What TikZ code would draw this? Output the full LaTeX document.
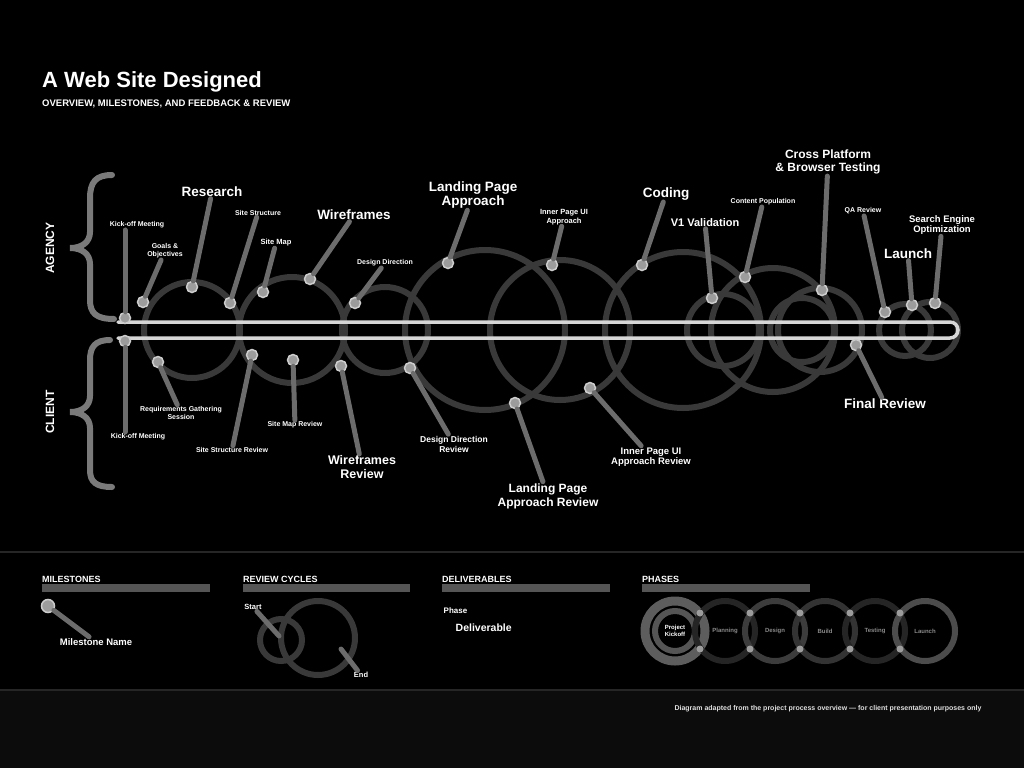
\documentclass[tikz,border=0pt]{standalone}
\usepackage{fontspec}
\setmainfont{Liberation Sans}
\definecolor{ringc}{HTML}{393939}
\definecolor{trackc}{HTML}{D6D6D6}
\definecolor{leadc}{HTML}{6C6C6C}
\definecolor{dotc}{HTML}{9C9C9C}
\definecolor{dotb}{HTML}{CDCDCD}
\definecolor{bracec}{HTML}{7A7A7A}
\definecolor{barc}{HTML}{555555}
\definecolor{footc}{HTML}{0C0C0C}
\definecolor{sepc}{HTML}{262626}
\definecolor{dimtext}{HTML}{8A8A8A}
\begin{document}
\begin{tikzpicture}[x=1pt,y=-1pt,
  ring/.style={draw=ringc, line width=6pt},
  track/.style={draw=trackc, line width=3.5pt, line cap=round},
  leader/.style={draw=leadc, line width=5pt, line cap=round},
  dotn/.style={circle, fill=dotc, draw=dotb, line width=1.5pt, minimum size=11pt, inner sep=0pt},
  lbl/.style={text=white, align=center, inner sep=1.5pt},
  lbig/.style={lbl, font=\fontsize{13.5}{14.5}\selectfont\bfseries},
  lmid/.style={lbl, font=\fontsize{9.5}{10.5}\selectfont\bfseries},
  lsml/.style={lbl, font=\fontsize{7}{8}\selectfont\bfseries},
  brace/.style={draw=bracec, line width=6pt, line cap=round},
  side/.style={text=white, font=\fontsize{12}{12}\selectfont\bfseries, rotate=90},
  legtitle/.style={text=white, anchor=south west, inner sep=0pt, font=\fontsize{9}{9}\selectfont\bfseries},
  legbar/.style={draw=barc, line width=8pt},
  phase/.style={draw=#1, line width=6pt},
  ptext/.style={text=dimtext, font=\fontsize{6}{7}\selectfont\bfseries, align=center},
  xdot/.style={circle, fill=dotc, inner sep=0pt, minimum size=7pt}
]
\useasboundingbox (0,0) rectangle (1024,768);
\fill[black] (0,0) rectangle (1024,768);
\fill[footc] (0,690) rectangle (1024,768);
\draw[sepc, line width=2pt] (0,552) -- (1024,552);
\draw[sepc, line width=2pt] (0,690) -- (1024,690);

% title
\node[anchor=west, text=white, inner sep=0pt, font=\fontsize{22}{22}\selectfont\bfseries] (title) at (42,82) {A Web Site Designed};
\node[anchor=west, text=white, inner sep=0pt, font=\fontsize{9.5}{9.5}\selectfont\bfseries] (subtitle) at (42,104) {OVERVIEW, MILESTONES, AND FEEDBACK \& REVIEW};

% braces
\draw[brace] (112,175) .. controls (96,175) and (90,182) .. (90,198) -- (90,232) .. controls (90,242) and (82,248) .. (70,248) .. controls (82,248) and (90,254) .. (90,264) -- (90,300) .. controls (90,313) and (96,319) .. (114,319);
\draw[brace] (110,340) .. controls (95,340) and (90,347) .. (90,360) -- (90,396) .. controls (90,406) and (82,412) .. (70,412) .. controls (82,412) and (90,418) .. (90,428) -- (90,470) .. controls (90,482) and (96,487) .. (112,487);
\node[side] (agency) at (50,248) {AGENCY};
\node[side] (client) at (50,412) {CLIENT};

% loops
\foreach \cx/\r in {192/48, 292/53, 385/43, 485/80, 560/70, 683/78, 723/36, 773/62, 802/32, 820/42, 905/26, 930/28}
  \draw[ring] (\cx,330) circle (\r);

% track
\draw[track] (118,322) -- (950,322) arc[start angle=-90, end angle=90, radius=8] -- (118,338);

% top labels
\node[lsml] (lt1) at (137,225) {Kick-off Meeting};
\node[lsml] (lt2) at (165,251) {Goals \&\\Objectives};
\node[lbig] (lt3) at (212,192) {Research};
\node[lsml] (lt4) at (258,213) {Site Structure};
\node[lsml, font=\fontsize{7.5}{8}\selectfont\bfseries] (lt5) at (276,243) {Site Map};
\node[lbig] (lt6) at (354,215) {Wireframes};
\node[lsml] (lt7) at (385,263) {Design Direction};
\node[lbig] (lt8) at (473,195) {Landing Page\\Approach};
\node[lsml, font=\fontsize{7.5}{8.5}\selectfont\bfseries] (lt9) at (564,217) {Inner Page UI\\Approach};
\node[lbig] (lt10) at (666,194) {Coding};
\node[lmid, font=\fontsize{11}{12}\selectfont\bfseries] (lt11) at (705,223) {V1 Validation};
\node[lsml] (lt12) at (763,202) {Content Population};
\node[lbig, font=\fontsize{12}{13.5}\selectfont\bfseries] (lt13) at (828,162) {Cross Platform\\\& Browser Testing};
\node[lsml] (lt14) at (863,211) {QA Review};
\node[lmid] (lt15) at (942,225) {Search Engine\\Optimization};
\node[lbig] (lt16) at (908,254) {Launch};

% bottom labels
\node[lsml] (lb1) at (138,437) {Kick-off Meeting};
\node[lsml] (lb2) at (181,413) {Requirements Gathering\\Session};
\node[lsml] (lb3) at (232,450) {Site Structure Review};
\node[lsml] (lb4) at (295,425) {Site Map Review};
\node[lbig, font=\fontsize{12.5}{13.5}\selectfont\bfseries] (lb5) at (362,467) {Wireframes\\Review};
\node[lmid, font=\fontsize{8.5}{10}\selectfont\bfseries] (lb6) at (454,444) {Design Direction\\Review};
\node[lbig, font=\fontsize{12}{14}\selectfont\bfseries] (lb7) at (548,496) {Landing Page\\Approach Review};
\node[lmid] (lb8) at (651,457) {Inner Page UI\\Approach Review};
\node[lbig] (lb9) at (885,404) {Final Review};

% dots
\foreach \n/\x/\y in {t1/125/318, t2/143/302, t3/192/287, t4/230/303, t5/263/292, t6/310/279, t7/355/303, t8/448/263, t9/552/265, t10/642/265, t11/712/298, t12/745/277, t13/822/290, t14/885/312, t15/935/303, t16/912/305,
  b1/125/341, b2/158/362, b3/252/355, b4/293/360, b5/341/366, b6/410/368, b7/515/403, b8/590/388, b9/856/345}
  \node[dotn] (\n) at (\x,\y) {};

% leaders
\draw[leader] (t1) -- (t1 |- lt1.south);
\draw[leader] (b1) -- (b1 |- lb1.north);
\foreach \n in {2,...,16} \draw[leader] (t\n) -- (lt\n);
\foreach \n in {2,...,9} \draw[leader] (b\n) -- (lb\n);

% ---------- legend ----------
\node[legtitle] (g1) at (42,583) {MILESTONES};
\draw[legbar] (42,588) -- (210,588);
\node[dotn, minimum size=13pt] (g1d) at (48,606) {};
\node[lbl, font=\fontsize{9.5}{10}\selectfont\bfseries] (g1l) at (96,642) {Milestone Name};
\draw[leader] (g1d) -- (g1l);

\node[legtitle] (g2) at (243,583) {REVIEW CYCLES};
\draw[legbar] (243,588) -- (410,588);
\draw[ring] (318,638) circle (37);
\draw[ring] (281,640) circle (21);
\node[lbl, font=\fontsize{7.5}{8}\selectfont\bfseries] (gs) at (253,607) {Start};
\node[lbl, font=\fontsize{7.5}{8}\selectfont\bfseries] (ge) at (361,675) {End};
\coordinate (gsp) at (279,636);
\coordinate (gep) at (341,649);
\draw[leader] (gs) -- (gsp);
\draw[leader] (ge) -- (gep);

\node[legtitle] (g3) at (442,583) {DELIVERABLES};
\draw[legbar] (442,588) -- (610,588);
\node[lbl, anchor=west, font=\fontsize{8}{8}\selectfont\bfseries] (g3a) at (442,611) {Phase};
\node[lbl, anchor=west, font=\fontsize{10.5}{11}\selectfont\bfseries] (g3b) at (454,628) {Deliverable};

\node[legtitle] (g4) at (642,583) {PHASES};
\draw[legbar] (642,588) -- (810,588);
\draw[phase=barc!95!white, line width=9pt] (675,631) circle (30);
\draw[phase=barc] (675,631) circle (20);
\draw[phase=ringc!110] (725,631) circle (30);
\draw[phase=sepc!90!white] (775,631) circle (30);
\draw[phase=ringc!90!black] (825,631) circle (30);
\draw[phase=ringc!110] (875,631) circle (30);
\draw[phase=barc!90!black] (925,631) circle (30);
\node[ptext, text=white] (p1) at (675,631) {Project\\Kickoff};
\node[ptext] (p2) at (725,631) {Planning};
\node[ptext] (p3) at (775,631) {Design};
\node[ptext] (p4) at (825,631) {Build};
\node[ptext] (p5) at (875,631) {Testing};
\node[ptext] (p6) at (925,631) {Launch};
\foreach \x in {700,750,800,850,900} {
  \node[xdot] at (\x,613) {};
  \node[xdot] at (\x,649) {};
}

% footer
\node[text=white!88!black, anchor=east, font=\fontsize{7}{7}\selectfont\bfseries] (foot) at (985,709) {Diagram adapted from the project process overview --- for client presentation purposes only};
\end{tikzpicture}
\end{document}
